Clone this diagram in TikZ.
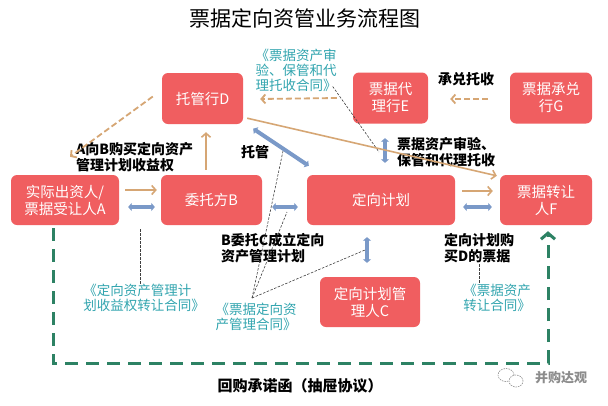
\documentclass[tikz,border=0pt]{standalone}
\usepackage{fontspec}
\setmainfont{Noto Sans CJK SC}
\usetikzlibrary{arrows.meta,calc}
\definecolor{boxred}{RGB}{240,94,96}
\definecolor{tanc}{RGB}{214,166,116}
\definecolor{bluea}{RGB}{122,153,200}
\definecolor{tealc}{RGB}{50,165,175}
\definecolor{gdash}{RGB}{45,130,100}
\tikzset{
  box/.style={fill=boxred, rounded corners=6pt, text=white, align=center,
    font=\fontsize{14.5}{17}\selectfont, minimum height=50pt, inner sep=0pt},
  lbl/.style={font=\bfseries\fontsize{14}{16}\selectfont, align=left, inner sep=0pt, anchor=west},
  ctr/.style={text=tealc, font=\fontsize{13.5}{15}\selectfont, align=left, inner sep=0pt},
  tanarr/.style={draw=tanc, line width=1.6pt, -{Straight Barb[length=4pt,width=9pt]}},
  tandash/.style={draw=tanc, line width=1.8pt, dash pattern=on 6pt off 3pt, -{Straight Barb[length=4pt,width=9pt]}},
  bluedbl/.style={draw=bluea, line width=3.6pt, {Triangle[length=3.5pt,width=8pt]}-{Triangle[length=3.5pt,width=8pt]}},
  thind/.style={draw=black!75, line width=0.6pt, dash pattern=on 2.5pt off 1.5pt},
  gline/.style={draw=gdash, line width=3pt, dash pattern=on 13pt off 8pt, -{Straight Barb[length=6pt,width=14pt]}}
}
\begin{document}
\begin{tikzpicture}[x=1pt,y=-1pt]
\useasboundingbox (0,0) rectangle (608,405);
\fill[white] (0,0) rectangle (608,405);
\node[font=\fontsize{21}{23}\selectfont] (T) at (305,18) {票据定向资管业务流程图};
% boxes
\node[box, minimum width=81pt, minimum height=51pt] (D) at (202.5,98.5) {托管行D};
\node[box, minimum width=75pt, minimum height=51pt] (E) at (390.5,98) {票据代\\理行E};
\node[box, minimum width=82pt, minimum height=51pt] (G) at (551,98) {票据承兑\\行G};
\node[box, minimum width=108pt] (A) at (65,200) {实际出资人/\\票据受让人A};
\node[box, minimum width=101pt] (B) at (211.5,200) {委托方B};
\node[box, minimum width=148pt] (P) at (381,200) {定向计划};
\node[box, minimum width=92pt] (F) at (546,200) {票据转让\\人F};
\node[box, minimum width=100pt] (C) at (370,302) {定向计划管\\理人C};
% labels
\node[lbl] (l1) at (76,157) {A向B购买定向资产\\管理计划收益权};
\node[lbl, anchor=center] (l2) at (255,152) {托管};
\node[lbl] (l3) at (397,152) {票据资产审验、\\保管和代理托收};
\node[lbl, anchor=center] (l4) at (466,79) {承兑托收};
\node[lbl] (l5) at (221,248) {B委托C成立定向\\资产管理计划};
\node[lbl] (l6) at (444,248) {定向计划购\\买D的票据};
\node[lbl, anchor=center, font=\bfseries\fontsize{15}{17}\selectfont] (l7) at (300,386) {回购承诺函（抽屉协议）};
% contracts
\node[ctr] (c1) at (296,70) {《票据资产审\\验、保管和代\\理托收合同》};
\node[ctr] (c2) at (144,298) {《定向资产管理计\\划收益权转让合同》};
\node[ctr] (c3) at (256,317) {《票据定向资\\产管理合同》};
\node[ctr] (c4) at (497,298) {《票据资产\\转让合同》};
% thin dashed leaders
\coordinate (k1) at (140,229);
\coordinate (k2) at (379,152);
\coordinate (k3) at (283,151);
\coordinate (k4) at (287,212);
\coordinate (k5) at (365,250);
\coordinate (k6) at (479,264);
\coordinate (k7) at (252,298);
\draw[thind] (k1) -- (k1 |- c2.north);
\draw[thind] ([xshift=-4pt,yshift=5pt]c1.south east) -- (k2);
\draw[thind] (k7) -- (k3);
\draw[thind] (k7) -- (k4);
\draw[thind] (k7) -- (k5);
\draw[thind] (k6) -- (k6 |- c4.north);
% connectors
\draw[tanarr] ([xshift=6pt,yshift=10pt]A.east) -- ([xshift=-4pt,yshift=10pt]B.west);
\draw[bluedbl] ([xshift=9pt,yshift=-7pt]A.east) -- ([xshift=-6pt,yshift=-7pt]B.west);
\draw[tanarr] ([xshift=-5.5pt,yshift=5pt]B.north) -- ([xshift=3.5pt,yshift=-8pt]D.south);
\draw[bluedbl] ([xshift=10pt,yshift=-7pt]B.east) -- ([xshift=-9pt,yshift=-7pt]P.west);
\draw[tanarr] ([xshift=7pt,yshift=9pt]P.east) -- ([xshift=-7pt,yshift=9pt]F.west);
\draw[bluedbl] ([xshift=8pt,yshift=-7pt]P.east) -- ([xshift=-8pt,yshift=-7pt]F.west);
\draw[bluedbl] ([xshift=-14pt,yshift=-12pt]P.south) -- ([xshift=-3pt,yshift=14pt]C.north);
\draw[bluedbl] ([xshift=-5.5pt,yshift=-14.5pt]E.south) -- ([xshift=4pt,yshift=12pt]P.north);
\draw[bluedbl, line width=4pt] ([xshift=10pt,yshift=-4.5pt]D.south east) -- ([xshift=2pt,yshift=9pt]P.north west);
\draw[tanarr] ([xshift=4pt,yshift=6pt]D.south east) -- ([xshift=-3pt,yshift=-1pt]F.north west);
\draw[tandash] ([xshift=-16pt]E.west) -- ([xshift=17pt,yshift=-0.5pt]D.east);
\draw[tandash] ([xshift=-22pt,yshift=-1pt]G.west) -- ([xshift=22pt,yshift=-1pt]E.east);
\draw[tandash] ([xshift=-9pt,yshift=2pt]D.west) -- ([xshift=5pt,yshift=18pt]A.north);
\draw[gline] ([xshift=-12pt,yshift=-3pt]A.south) -- ++(0,135) -| ([xshift=2pt,yshift=-6pt]F.south);
% watermark
\draw[black!45, line width=0.6pt, dash pattern=on 1.5pt off 1pt] (506,375) ellipse (8pt and 6.5pt);
\draw[black!45, line width=0.6pt, dash pattern=on 1.5pt off 1pt, fill=white] (516,381) ellipse (7pt and 6pt);
\node[text=black!45, font=\bfseries\fontsize{13}{15}\selectfont] (wm) at (561,378) {并购达观};
\end{tikzpicture}
\end{document}
